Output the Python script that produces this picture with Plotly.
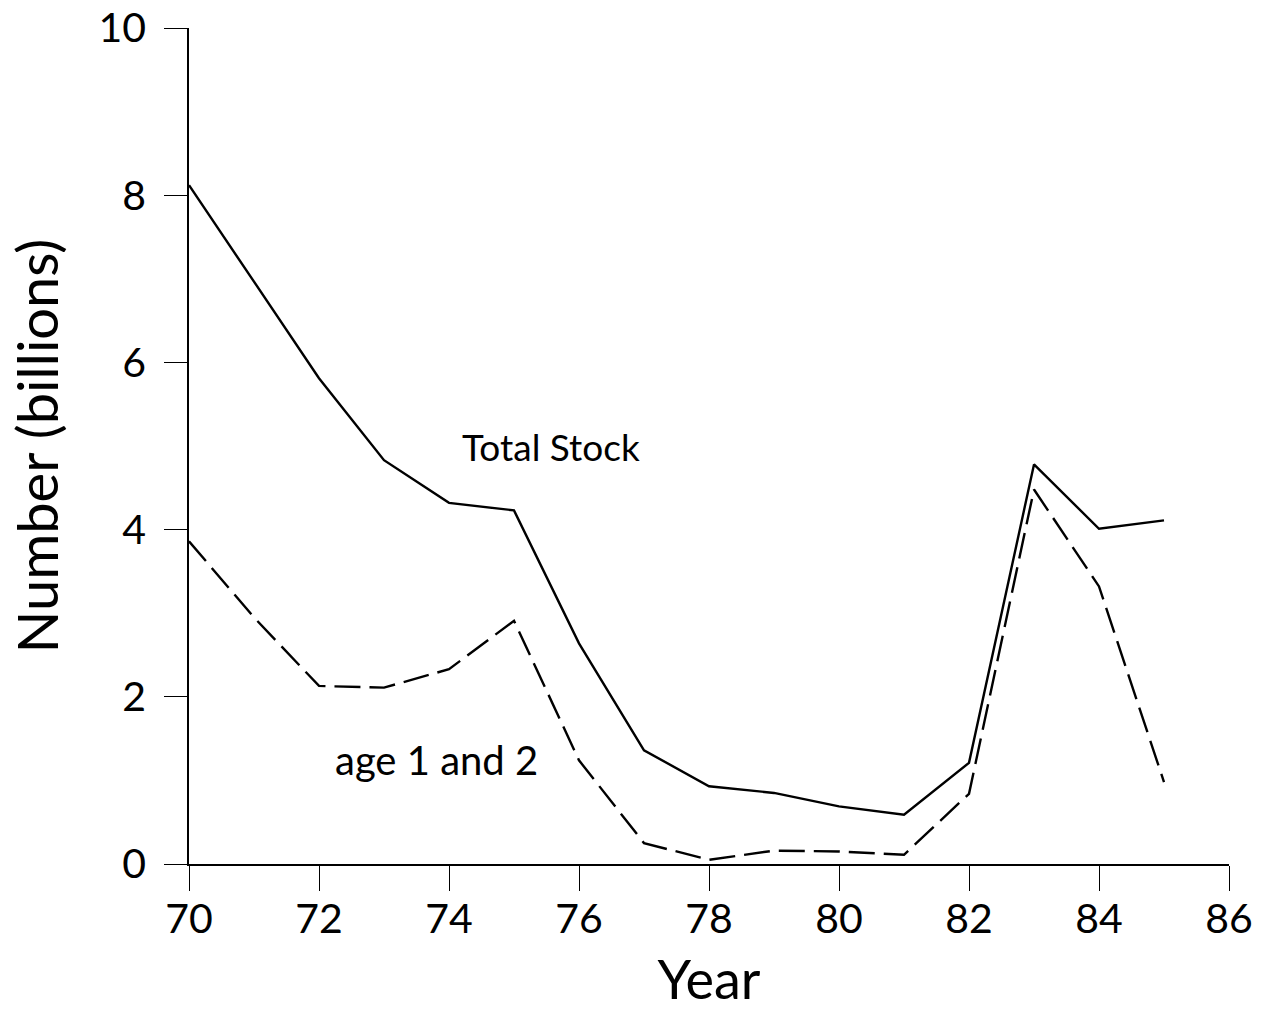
import plotly.graph_objects as go

# Stock estimates by year (billions of fish)
years = [70, 71, 72, 73, 74, 75, 76, 77, 78, 79, 80, 81, 82, 83, 84, 85]
total_stock = [8.12, 6.97, 5.81, 4.83, 4.32, 4.23, 2.64, 1.36, 0.93, 0.85,
               0.69, 0.59, 1.21, 4.78, 4.01, 4.11]
age_1_and_2 = [3.86, 2.95, 2.13, 2.11, 2.33, 2.91, 1.24, 0.25, 0.05, 0.16,
               0.15, 0.11, 0.84, 4.48, 3.32, 0.98]

x_ticks = [70, 72, 74, 76, 78, 80, 82, 84, 86]
y_ticks = [0, 2, 4, 6, 8, 10]

FONT = "Lato"

fig = go.Figure()
fig.add_trace(go.Scatter(
    x=years, y=total_stock, mode="lines", name="Total Stock",
    line=dict(color="black", width=2.4), cliponaxis=False,
))
fig.add_trace(go.Scatter(
    x=years, y=age_1_and_2, mode="lines", name="age 1 and 2",
    line=dict(color="black", width=2.4, dash="26px,9px"), cliponaxis=False,
))

fig.add_annotation(x=75.57, y=5.0, text="Total Stock", showarrow=False,
                   xanchor="center", yanchor="middle",
                   font=dict(family=FONT, size=37, color="black"))
fig.add_annotation(x=73.8, y=1.25, text="age 1 and 2", showarrow=False,
                   xanchor="center", yanchor="middle",
                   font=dict(family=FONT, size=40, color="black"))

fig.update_layout(
    width=1265, height=1011,
    margin=dict(l=189, r=36, t=28, b=147),
    paper_bgcolor="white", plot_bgcolor="white",
    showlegend=False,
    font=dict(family=FONT, color="black"),
)
fig.update_xaxes(
    range=[70, 86], tickvals=x_ticks, ticktext=[str(v) for v in x_ticks],
    showgrid=False, zeroline=False, automargin=False,
    showline=True, linecolor="black", linewidth=1.6,
    ticks="outside", ticklen=25, tickwidth=1.4, tickcolor="black",
    ticklabelstandoff=-7,
    tickfont=dict(family=FONT, size=41),
    title=dict(text="Year", font=dict(family=FONT, size=54), standoff=24),
)
fig.update_yaxes(
    range=[0, 10], tickvals=y_ticks, ticktext=[str(v) for v in y_ticks],
    showgrid=False, zeroline=False, automargin=False,
    showline=True, linecolor="black", linewidth=1.6,
    ticks="outside", ticklen=23, tickwidth=1.4, tickcolor="black",
    ticklabelstandoff=10,
    tickfont=dict(family=FONT, size=41),
    title=dict(text="Number (billions)", font=dict(family=FONT, size=56), standoff=22),
)

fig.write_html("out.html")
